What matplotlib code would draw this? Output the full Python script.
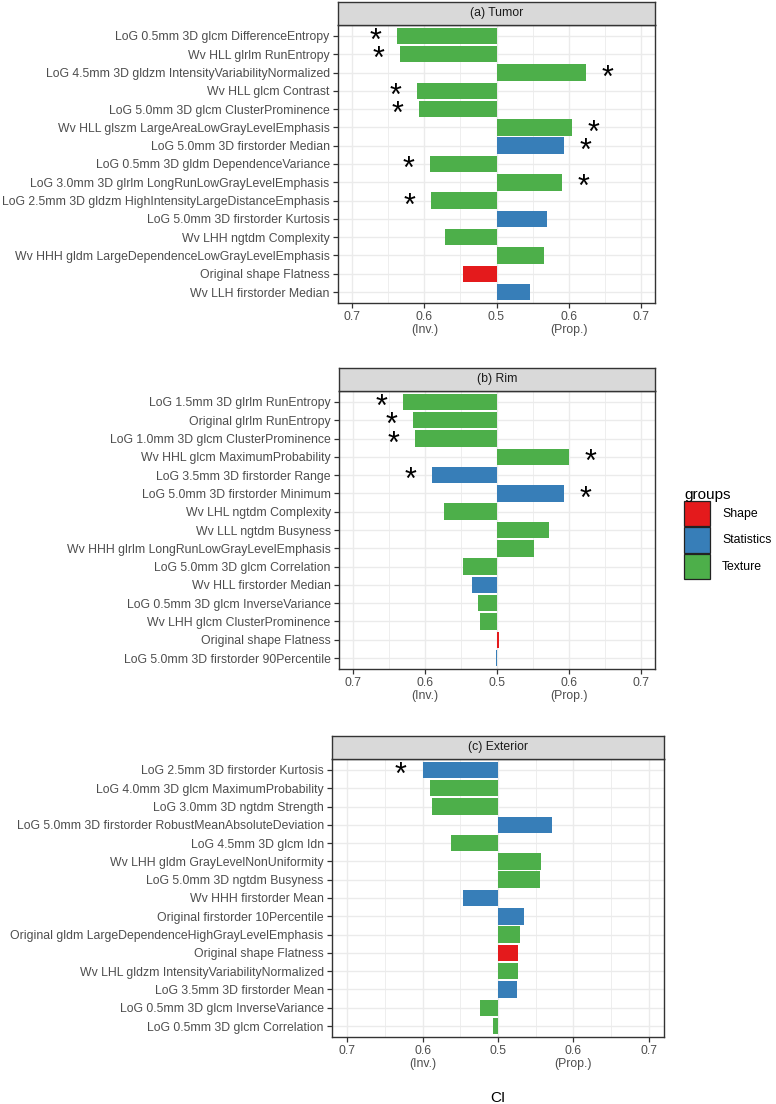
import numpy as np
import matplotlib
matplotlib.use("Agg")
from matplotlib import pyplot as plt
from matplotlib.patches import Rectangle

plt.rcParams['font.family'] = ['Liberation Sans', 'DejaVu Sans']

# Datos: desplazamiento del CI respecto de 0.5 (negativo = inverso)
etiquetas_a = [
    "LoG 0.5mm 3D glcm DifferenceEntropy",
    "Wv HLL glrlm RunEntropy",
    "LoG 4.5mm 3D gldzm IntensityVariabilityNormalized",
    "Wv HLL glcm Contrast",
    "LoG 5.0mm 3D glcm ClusterProminence",
    "Wv HLL glszm LargeAreaLowGrayLevelEmphasis",
    "LoG 5.0mm 3D firstorder Median",
    "LoG 0.5mm 3D gldm DependenceVariance",
    "LoG 3.0mm 3D glrlm LongRunLowGrayLevelEmphasis",
    "LoG 2.5mm 3D gldzm HighIntensityLargeDistanceEmphasis",
    "LoG 5.0mm 3D firstorder Kurtosis",
    "Wv LHH ngtdm Complexity",
    "Wv HHH gldm LargeDependenceLowGrayLevelEmphasis",
    "Original shape Flatness",
    "Wv LLH firstorder Median",
]
valores_a = [-0.138, -0.134, 0.124, -0.110, -0.107, 0.105, 0.094, -0.092,
             0.091, -0.091, 0.070, -0.072, 0.066, -0.047, 0.047]
grupos_a = ["Texture", "Texture", "Texture", "Texture", "Texture", "Texture",
            "Statistics", "Texture", "Texture", "Texture", "Statistics",
            "Texture", "Texture", "Shape", "Statistics"]
signif_a = [1, 1, 1, 1, 1, 1, 1, 1, 1, 1, 0, 0, 0, 0, 0]

etiquetas_b = [
    "LoG 1.5mm 3D glrlm RunEntropy",
    "Original glrlm RunEntropy",
    "LoG 1.0mm 3D glcm ClusterProminence",
    "Wv HHL glcm MaximumProbability",
    "LoG 3.5mm 3D firstorder Range",
    "LoG 5.0mm 3D firstorder Minimum",
    "Wv LHL ngtdm Complexity",
    "Wv LLL ngtdm Busyness",
    "Wv HHH glrlm LongRunLowGrayLevelEmphasis",
    "LoG 5.0mm 3D glcm Correlation",
    "Wv HLL firstorder Median",
    "LoG 0.5mm 3D glcm InverseVariance",
    "Wv LHH glcm ClusterProminence",
    "Original shape Flatness",
    "LoG 5.0mm 3D firstorder 90Percentile",
]
valores_b = [-0.131, -0.117, -0.114, 0.100, -0.091, 0.093, -0.074, 0.072,
             0.052, -0.047, -0.035, -0.027, -0.023, 0.003, -0.001]
grupos_b = ["Texture", "Texture", "Texture", "Texture", "Statistics",
            "Statistics", "Texture", "Texture", "Texture", "Texture",
            "Statistics", "Texture", "Texture", "Shape", "Statistics"]
signif_b = [1, 1, 1, 1, 1, 1, 0, 0, 0, 0, 0, 0, 0, 0, 0]

etiquetas_c = [
    "LoG 2.5mm 3D firstorder Kurtosis",
    "LoG 4.0mm 3D glcm MaximumProbability",
    "LoG 3.0mm 3D ngtdm Strength",
    "LoG 5.0mm 3D firstorder RobustMeanAbsoluteDeviation",
    "LoG 4.5mm 3D glcm Idn",
    "Wv LHH gldm GrayLevelNonUniformity",
    "LoG 5.0mm 3D ngtdm Busyness",
    "Wv HHH firstorder Mean",
    "Original firstorder 10Percentile",
    "Original gldm LargeDependenceHighGrayLevelEmphasis",
    "Original shape Flatness",
    "Wv LHL gldzm IntensityVariabilityNormalized",
    "LoG 3.5mm 3D firstorder Mean",
    "LoG 0.5mm 3D glcm InverseVariance",
    "LoG 0.5mm 3D glcm Correlation",
]
valores_c = [-0.099, -0.090, -0.087, 0.071, -0.062, 0.057, 0.055, -0.047,
             0.035, 0.029, 0.027, 0.027, 0.025, -0.024, -0.006]
grupos_c = ["Statistics", "Texture", "Texture", "Statistics", "Texture",
            "Texture", "Texture", "Statistics", "Statistics", "Texture",
            "Shape", "Texture", "Statistics", "Texture", "Texture"]
signif_c = [1, 0, 0, 0, 0, 0, 0, 0, 0, 0, 0, 0, 0, 0, 0]

titulos = ["(a) Tumor", "(b) Rim", "(c) Exterior"]
ticks_x = [-0.2, -0.1, 0.0, 0.1, 0.2]
etiquetas_x = ["0.7", "0.6\n(Inv.)", "0.5", "0.6\n(Prop.)", "0.7"]
grupos = ["Shape", "Statistics", "Texture"]
colores = {"Shape": "#E41A1C", "Statistics": "#377EB8", "Texture": "#4DAF4A"}

W, H = 776, 1104
fig = plt.figure(figsize=(W / 100, H / 100), dpi=100)

# Posiciones de los paneles en pixeles: izquierda, derecha, arriba, abajo
paneles = [(338, 655, 25, 303), (339, 655, 391, 669), (332, 664, 759, 1037)]
alto_tira = 23.5

datos = [(etiquetas_a, valores_a, grupos_a, signif_a),
         (etiquetas_b, valores_b, grupos_b, signif_b),
         (etiquetas_c, valores_c, grupos_c, signif_c)]

for (izq, der, arr, aba), (etq, val, grp, sig), titulo in zip(paneles, datos, titulos):
    ax = fig.add_axes([izq / W, 1 - aba / H, (der - izq) / W, (aba - arr) / H])
    n = len(etq)
    y = np.arange(n)
    ax.barh(y, val, height=0.9, color=[colores[g] for g in grp], zorder=3)
    for i in range(n):
        if sig[i]:
            xs = val[i] + 0.03 * np.sign(val[i])
            ax.text(xs, i + 0.33, "*", ha='center', va='center', fontsize=22,
                    color='black', zorder=4)
    ax.set_xlim(-0.22, 0.22)
    ax.set_ylim(n - 0.4, -0.6)
    ax.set_yticks(y)
    ax.set_yticklabels(etq)
    ax.set_xticks(ticks_x)
    ax.set_xticklabels(etiquetas_x, linespacing=1.05)
    ax.set_xticks([-0.15, -0.05, 0.05, 0.15], minor=True)
    ax.tick_params(axis='both', which='major', length=3.5, width=0.9,
                   color='#333333', labelcolor='#4D4D4D', labelsize=8.8, pad=2.5)
    ax.tick_params(axis='x', which='minor', length=0)
    ax.grid(True, which='major', color='#EBEBEB', linewidth=1.0, zorder=0)
    ax.grid(True, which='minor', axis='x', color='#EBEBEB', linewidth=0.6, zorder=0)
    ax.set_axisbelow(True)
    for s in ax.spines.values():
        s.set_color('#333333')
        s.set_linewidth(1.0)

    # Tira del titulo (estilo facet)
    tira = fig.add_axes([izq / W, 1 - arr / H, (der - izq) / W, alto_tira / H])
    tira.set_facecolor('#D9D9D9')
    tira.set_xticks([])
    tira.set_yticks([])
    for s in tira.spines.values():
        s.set_color('#333333')
        s.set_linewidth(1.0)
    tira.text(0.5, 0.5, titulo, ha='center', va='center', fontsize=8.8,
              color='#1A1A1A', transform=tira.transAxes)

fig.text(498 / W, 1 - 1098 / H, "CI", ha='center', va='center', fontsize=11)

# Leyenda
fig.text(684 / W, 1 - 495 / H, "groups", ha='left', va='center', fontsize=11)
for k, g in enumerate(grupos):
    top = 500.5 + k * 26.7
    fig.patches.append(Rectangle((684 / W, 1 - (top + 25.5) / H), 26 / W, 25.5 / H,
                                 facecolor=colores[g], edgecolor='#222222',
                                 linewidth=0.9, transform=fig.transFigure))
    fig.text(722 / W, 1 - (top + 13) / H, g, ha='left', va='center',
             fontsize=8.8, color='black')

fig.savefig("out.png", dpi=100)
